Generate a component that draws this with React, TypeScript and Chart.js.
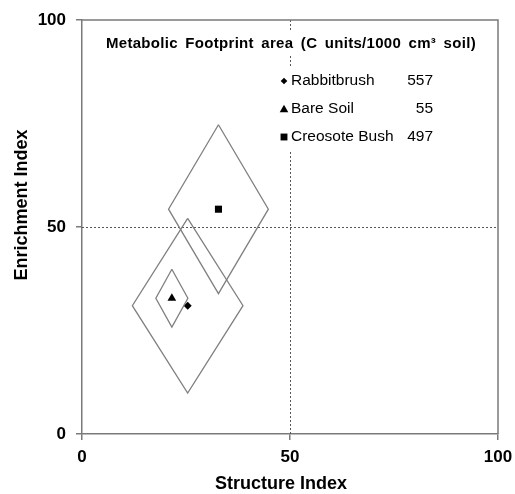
import React, { useEffect, useRef } from 'react';
import { Chart, registerables } from 'chart.js';

Chart.register(...registerables);

const categories = ['Rabbitbrush', 'Bare Soil', 'Creosote Bush'];
const footprintArea = [557, 55, 497];
const structureIndex = [25.4, 21.6, 32.8];
const enrichmentIndex = [31.0, 32.8, 54.3];
const structureSpread = [13.3, 3.85, 12.0];
const enrichmentSpread = [21.1, 7.0, 20.4];
const markerStyles = ['rectRot', 'triangle', 'rect'];
const markerSizes = [4, 5, 5];
const axisTicks = [0, 50, 100];
const quadrantLine = 50;
const chartTitle = 'Metabolic Footprint area (C units/1000 cm³ soil)';
const xTitle = 'Structure Index';
const yTitle = 'Enrichment Index';

const FONT = '"Liberation Sans", Arial, sans-serif';
const AXIS_GREY = '#7a7a7a';

function drawMarker(ctx: CanvasRenderingContext2D, style: string, x: number, y: number, r: number) {
  ctx.beginPath();
  if (style === 'rectRot') {
    ctx.moveTo(x, y - r);
    ctx.lineTo(x + r, y);
    ctx.lineTo(x, y + r);
    ctx.lineTo(x - r, y);
  } else if (style === 'triangle') {
    ctx.moveTo(x, y - r);
    ctx.lineTo(x + r, y + r * 0.75);
    ctx.lineTo(x - r, y + r * 0.75);
  } else {
    ctx.rect(x - r * 0.8, y - r * 0.8, r * 1.6, r * 1.6);
  }
  ctx.closePath();
  ctx.fill();
}

const overlayPlugin = {
  id: 'overlay',
  beforeDatasetsDraw(chart: any) {
    const { ctx, chartArea, scales } = chart;
    const { left, right, top, bottom } = chartArea;
    ctx.save();
    ctx.strokeStyle = '#555';
    ctx.lineWidth = 1;
    ctx.setLineDash([2, 2]);
    const xp = Math.round(scales.x.getPixelForValue(quadrantLine)) + 0.5;
    const yp = Math.round(scales.y.getPixelForValue(quadrantLine)) + 0.5;
    ctx.beginPath();
    ctx.moveTo(xp, top);
    ctx.lineTo(xp, bottom);
    ctx.moveTo(left, yp);
    ctx.lineTo(right, yp);
    ctx.stroke();
    ctx.setLineDash([]);
    ctx.strokeStyle = AXIS_GREY;
    ctx.lineWidth = 1.5;
    ctx.beginPath();
    ctx.moveTo(left, top);
    ctx.lineTo(right, top);
    ctx.lineTo(right, bottom);
    ctx.stroke();
    ctx.restore();
  },
  afterDatasetsDraw(chart: any) {
    const { ctx } = chart;
    ctx.save();
    // chart title
    ctx.fillStyle = '#fff';
    ctx.fillRect(100, 32, 388, 24);
    ctx.fillStyle = '#000';
    ctx.font = `bold 15px ${FONT}`;
    ctx.textBaseline = 'middle';
    ctx.textAlign = 'left';
    (ctx as any).letterSpacing = '0.3px';
    (ctx as any).wordSpacing = '3px';
    ctx.fillText(chartTitle, 106, 44);
    (ctx as any).letterSpacing = '0px';
    (ctx as any).wordSpacing = '0px';
    // legend
    const rowY = [81, 109, 137];
    ctx.fillStyle = '#fff';
    ctx.fillRect(276, 68, 162, 82);
    categories.forEach((name, i) => {
      const y = rowY[i];
      ctx.fillStyle = '#000';
      drawMarker(ctx, markerStyles[i], 284, y, markerSizes[i] - 0.7);
      ctx.font = `15.5px ${FONT}`;
      ctx.textAlign = 'left';
      ctx.fillText(name, 291, y);
      ctx.textAlign = 'right';
      ctx.fillText(String(footprintArea[i]), 433, y);
    });
    // axis titles
    ctx.font = `bold 18px ${FONT}`;
    ctx.textAlign = 'center';
    ctx.textBaseline = 'middle';
    ctx.fillText(xTitle, 281, 484);
    ctx.translate(22.5, 205);
    ctx.rotate(-Math.PI / 2);
    ctx.fillText(yTitle, 0, 0);
    ctx.restore();
  },
};

export default function App() {
  const canvasRef = useRef<HTMLCanvasElement | null>(null);

  useEffect(() => {
    const canvas = canvasRef.current;
    if (!canvas) return;

    const diamondSets = categories.map((name, i) => {
      const cx = structureIndex[i];
      const cy = enrichmentIndex[i];
      const dx = structureSpread[i];
      const dy = enrichmentSpread[i];
      return {
        label: name + ' footprint',
        data: [
          { x: cx, y: cy + dy },
          { x: cx + dx, y: cy },
          { x: cx, y: cy - dy },
          { x: cx - dx, y: cy },
          { x: cx, y: cy + dy },
        ],
        showLine: true,
        fill: false,
        tension: 0,
        pointRadius: 0,
        borderColor: '#808080',
        borderWidth: 1.3,
      };
    });
    const markerSets = categories.map((name, i) => ({
      label: name,
      data: [{ x: structureIndex[i], y: enrichmentIndex[i] }],
      pointStyle: markerStyles[i] as any,
      pointRadius: markerSizes[i],
      backgroundColor: '#000',
      borderColor: '#000',
      borderWidth: 0,
      showLine: false,
    }));

    const tickFont = { family: FONT, size: 17, weight: 'bold' as const };

    const chart = new Chart(canvas, {
      type: 'scatter',
      data: { datasets: [...diamondSets, ...markerSets] as any },
      options: {
        responsive: false,
        animation: false,
        layout: { padding: { left: 0, right: 17, top: 20, bottom: 0 } },
        plugins: { legend: { display: false }, tooltip: { enabled: false } },
        scales: {
          x: {
            type: 'linear',
            min: 0,
            max: 100,
            afterBuildTicks: (s: any) => {
              s.ticks = axisTicks.map((v) => ({ value: v }));
            },
            afterFit: (s: any) => {
              s.height = 60;
              s.paddingLeft = 0;
              s.paddingRight = 0;
            },
            ticks: { color: '#000', font: tickFont, padding: 7, maxRotation: 0 },
            grid: { drawOnChartArea: false, drawTicks: true, tickLength: 6, color: AXIS_GREY, lineWidth: 1.5 },
            border: { color: AXIS_GREY, width: 1.5 },
            title: { display: false, text: xTitle },
          },
          y: {
            type: 'linear',
            min: 0,
            max: 100,
            afterBuildTicks: (s: any) => {
              s.ticks = axisTicks.map((v) => ({ value: v }));
            },
            afterFit: (s: any) => {
              s.width = 82;
              s.paddingTop = 0;
              s.paddingBottom = 0;
            },
            ticks: { color: '#000', font: tickFont, padding: 10 },
            grid: { drawOnChartArea: false, drawTicks: true, tickLength: 6, color: AXIS_GREY, lineWidth: 1.5 },
            border: { color: AXIS_GREY, width: 1.5 },
            title: { display: false, text: yTitle },
          },
        },
      },
      plugins: [overlayPlugin],
    });

    return () => chart.destroy();
  }, []);

  return (
    <div style={{ position: 'fixed', left: 0, top: 0, width: 515, height: 494, background: '#fff' }}>
      <canvas ref={canvasRef} width={515} height={494} style={{ display: 'block' }} />
    </div>
  );
}
